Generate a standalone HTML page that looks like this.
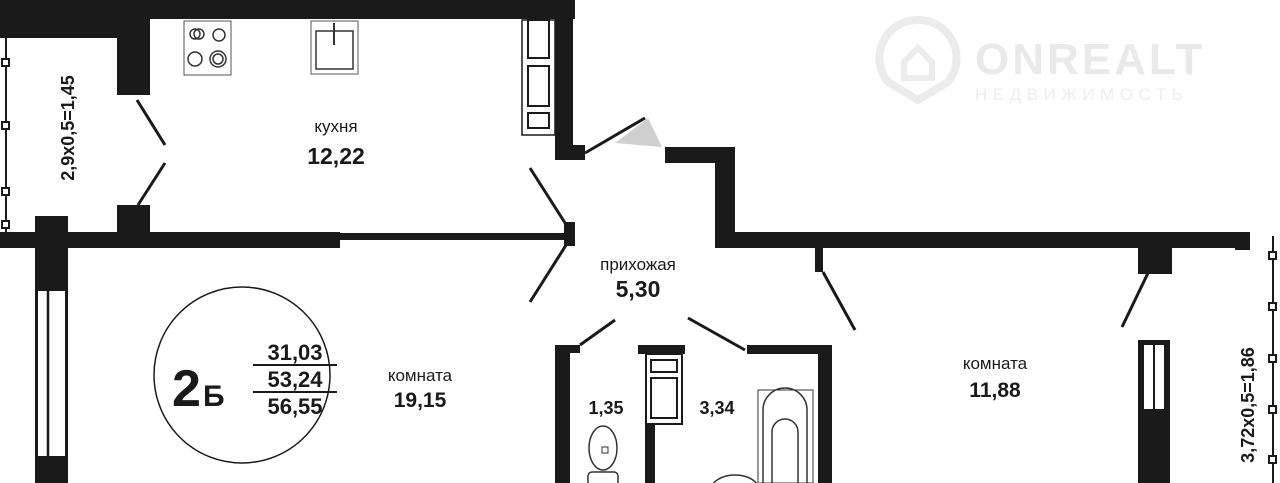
<!DOCTYPE html>
<html><head><meta charset="utf-8"><style>
body{margin:0;background:#fff;}
svg{display:block;font-family:"Liberation Sans",sans-serif;}
</style></head><body>
<svg width="1280" height="483" viewBox="0 0 1280 483">
<rect width="1280" height="483" fill="#fff"/>
<!-- logo -->
<g>
<path d="M918 20 a38 38 0 0 1 30 62 L918 100 L888 82 a38 38 0 0 1 30 -62 Z" fill="none" stroke="#ececec" stroke-width="8"/>
<path d="M904 62 L918 48 L932 62 V78 H904 Z" fill="none" stroke="#ececec" stroke-width="6"/>
<text x="975" y="74" font-size="44" font-weight="bold" fill="#eaeaea" letter-spacing="3">ONREALT</text>
<text x="975" y="100" font-size="17" fill="#eeeeee" letter-spacing="5.5">НЕДВИЖИМОСТЬ</text>
</g>
<g fill="#1a1a1a">
<rect x="0" y="0" width="575" height="19"/>
<rect x="0" y="0" width="118" height="38"/>
<rect x="117" y="0" width="33" height="95"/>
<rect x="555" y="0" width="18" height="160"/>
<rect x="555" y="145" width="30" height="15"/>
<rect x="117" y="205" width="33" height="35"/>
<rect x="35" y="216" width="33" height="32"/>
<rect x="0" y="232" width="340" height="16"/>
<rect x="340" y="233" width="228" height="7"/>
<rect x="564" y="222" width="11" height="24"/>
<rect x="35" y="248" width="33" height="235"/>
<rect x="665" y="147" width="70" height="16"/>
<rect x="715" y="147" width="20" height="101"/>
<rect x="715" y="232" width="535" height="16"/>
<rect x="815" y="248" width="8" height="24"/>
<rect x="1138" y="248" width="34" height="26"/>
<rect x="1235" y="232" width="15" height="18"/>
<rect x="555" y="345" width="15" height="138"/>
<rect x="555" y="345" width="25" height="8"/>
<rect x="638" y="345" width="47" height="9"/>
<rect x="747" y="345" width="85" height="9"/>
<rect x="818" y="345" width="14" height="138"/>
<rect x="645" y="354" width="10" height="129"/>
<rect x="1138" y="340" width="32" height="143"/>
</g>
<rect x="37" y="290" width="29" height="167" fill="#fff" stroke="#1a1a1a" stroke-width="2"/>
<line x1="48" y1="290" x2="48" y2="457" stroke="#1a1a1a" stroke-width="2.5"/>
<rect x="1143" y="344" width="22" height="66" fill="#fff" stroke="#1a1a1a" stroke-width="2"/>
<line x1="1154" y1="344" x2="1154" y2="410" stroke="#1a1a1a" stroke-width="2"/>
<!-- cabinet -->
<rect x="646" y="354" width="36" height="70" fill="#fff" stroke="#1a1a1a" stroke-width="2"/>
<rect x="651" y="360" width="26" height="12" fill="none" stroke="#1a1a1a" stroke-width="2"/>
<rect x="651" y="378" width="26" height="40" fill="none" stroke="#1a1a1a" stroke-width="2"/>
<!-- fridge -->
<rect x="522" y="20" width="33" height="115" fill="#fff" stroke="#1a1a1a" stroke-width="1.5"/>
<rect x="528" y="20" width="21" height="38" fill="none" stroke="#1a1a1a" stroke-width="2"/>
<rect x="528" y="66" width="21" height="40" fill="none" stroke="#1a1a1a" stroke-width="2"/>
<rect x="528" y="113" width="21" height="15" fill="none" stroke="#1a1a1a" stroke-width="2"/>
<!-- stove -->
<rect x="184" y="21" width="47" height="54" fill="none" stroke="#555" stroke-width="1"/>
<circle cx="195" cy="34" r="5" fill="none" stroke="#333" stroke-width="1.5"/><circle cx="199" cy="34" r="5" fill="none" stroke="#333" stroke-width="1.5"/>
<circle cx="219" cy="35" r="6" fill="none" stroke="#333" stroke-width="1.5"/>
<circle cx="195" cy="59" r="7" fill="none" stroke="#333" stroke-width="1.5"/>
<circle cx="218" cy="59" r="8" fill="none" stroke="#333" stroke-width="1.5"/><circle cx="218" cy="59" r="5" fill="none" stroke="#333" stroke-width="1.5"/>
<!-- sink -->
<rect x="311" y="21" width="47" height="53" fill="none" stroke="#555" stroke-width="1"/>
<rect x="316" y="31" width="37" height="38" fill="none" stroke="#333" stroke-width="1.5"/>
<line x1="334" y1="23" x2="334" y2="45" stroke="#333" stroke-width="2"/>
<!-- bath -->
<rect x="758" y="390" width="55" height="93" fill="none" stroke="#333" stroke-width="1"/>
<path d="M763 483 V410 a22 22 0 0 1 44 0 V483" fill="none" stroke="#333" stroke-width="1.5"/>
<path d="M772 483 V432 a13 13 0 0 1 26 0 V483" fill="none" stroke="#333" stroke-width="1.5"/>
<ellipse cx="735" cy="490" rx="24" ry="15" fill="none" stroke="#333" stroke-width="1.5"/>
<!-- toilet -->
<ellipse cx="603" cy="448" rx="14" ry="22" fill="none" stroke="#333" stroke-width="1.5"/>
<rect x="602" y="447" width="6" height="6" fill="none" stroke="#333" stroke-width="1"/>
<rect x="588" y="472" width="30" height="14" rx="4" fill="none" stroke="#333" stroke-width="1.5"/>
<!-- balconies -->
<g stroke="#1a1a1a" stroke-width="2" fill="#fff">
<line x1="6" y1="38" x2="6" y2="240"/>
<rect x="2" y="59" width="7" height="7"/><rect x="2" y="122" width="7" height="7"/><rect x="2" y="188" width="7" height="7"/><rect x="2" y="221" width="7" height="7"/>
<line x1="1273" y1="236" x2="1273" y2="483"/>
<rect x="1269" y="252" width="7" height="7"/><rect x="1269" y="303" width="7" height="7"/><rect x="1269" y="355" width="7" height="7"/><rect x="1269" y="406" width="7" height="7"/><rect x="1269" y="456" width="7" height="7"/>
</g>
<!-- doors -->
<g stroke="#1a1a1a" stroke-width="3" fill="none">
<line x1="137" y1="100" x2="165" y2="145"/>
<line x1="165" y1="163" x2="138" y2="205"/>
<line x1="530" y1="168" x2="567" y2="226"/>
<line x1="568" y1="242" x2="530" y2="302"/>
<line x1="585" y1="153" x2="645" y2="118"/>
<line x1="580" y1="345" x2="615" y2="320"/>
<line x1="688" y1="318" x2="745" y2="350"/>
<line x1="823" y1="272" x2="855" y2="330"/>
<line x1="1148" y1="273" x2="1122" y2="327"/>
</g>
<path d="M615 143 L648 118 L662 147 Z" fill="#cfcfcf"/>
<!-- circle -->
<circle cx="242" cy="375" r="88" fill="none" stroke="#1a1a1a" stroke-width="1.5"/>
<text x="172" y="406" font-size="52" font-weight="bold" fill="#1a1a1a">2</text>
<text x="203" y="406" font-size="30" font-weight="bold" fill="#1a1a1a">Б</text>
<g font-size="22" font-weight="bold" fill="#1a1a1a" text-anchor="middle">
<text x="295" y="360">31,03</text>
<text x="295" y="387">53,24</text>
<text x="295" y="414">56,55</text>
</g>
<rect x="253" y="364" width="84" height="2" fill="#1a1a1a"/>
<rect x="253" y="391" width="84" height="2" fill="#1a1a1a"/>
<g fill="#1a1a1a" text-anchor="middle">
<text x="336" y="132" font-size="17">кухня</text>
<text x="336" y="164" font-size="23" font-weight="bold">12,22</text>
<text x="638" y="270" font-size="17">прихожая</text>
<text x="638" y="297" font-size="23" font-weight="bold">5,30</text>
<text x="420" y="381" font-size="17">комната</text>
<text x="420" y="407" font-size="21" font-weight="bold">19,15</text>
<text x="995" y="369" font-size="17">комната</text>
<text x="995" y="397" font-size="21" font-weight="bold">11,88</text>
<text x="606" y="414" font-size="18" font-weight="bold">1,35</text>
<text x="717" y="414" font-size="18" font-weight="bold">3,34</text>
</g>
<text transform="translate(74,128) rotate(-90)" text-anchor="middle" font-size="18" font-weight="bold" fill="#1a1a1a">2,9x0,5=1,45</text>
<text transform="translate(1254,405) rotate(-90)" text-anchor="middle" font-size="18" font-weight="bold" fill="#1a1a1a">3,72x0,5=1,86</text>
</svg>
</body></html>
